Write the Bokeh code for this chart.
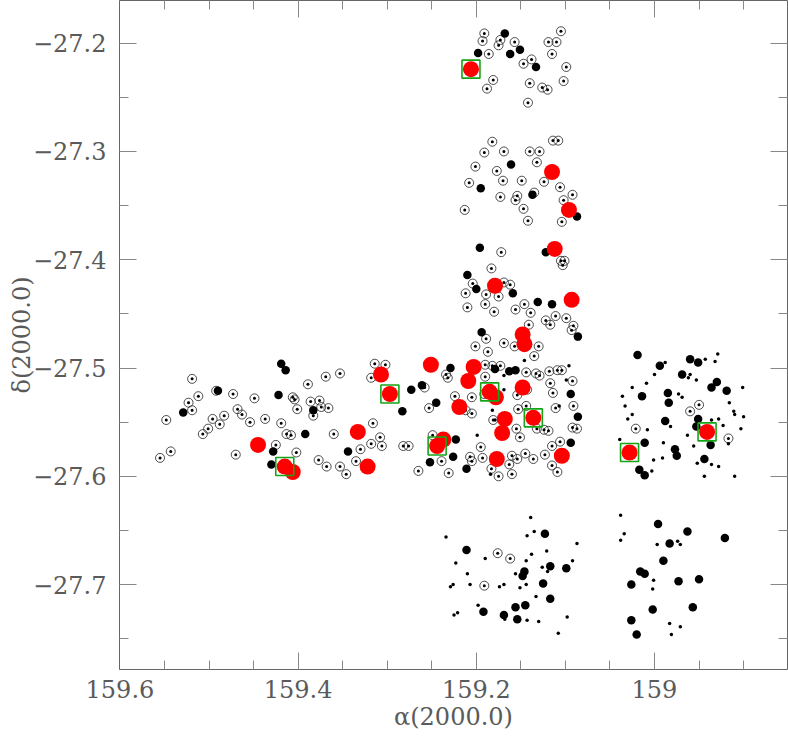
from bokeh.plotting import figure
from bokeh.models import Range1d, FixedTicker, LinearAxis, CustomJSTickFormatter
from bokeh.embed import file_html
from bokeh.resources import INLINE

# ---------------- data (RA, Dec in degrees, J2000) ----------------
ring_ra = [159.191, 159.193, 159.173, 159.175, 159.157, 159.186, 159.138, 159.147, 159.119, 159.110,
           159.105, 159.115, 159.099, 159.102, 159.181, 159.188, 159.140, 159.126, 159.120, 159.142,
           159.182, 159.191, 159.169, 159.140, 159.129, 159.114, 159.108, 159.132, 159.201, 159.177,
           159.208, 159.170, 159.149, 159.124, 159.106, 159.135, 159.154, 159.156, 159.173, 159.092,
           159.102, 159.213, 159.147, 159.142, 159.104,
           159.172, 159.105, 159.101, 159.103, 159.183, 159.204, 159.169, 159.162, 159.212, 159.189,
           159.175, 159.210, 159.190, 159.180, 159.146, 159.156, 159.139, 159.141, 159.122, 159.111,
           159.099, 159.117, 159.091, 159.093, 159.189, 159.201, 159.169, 159.157, 159.130,
           159.187, 159.135, 159.190, 159.182, 159.173, 159.144, 159.133, 159.118, 159.109, 159.104,
           159.234, 159.232, 159.190, 159.129, 159.092, 159.258, 159.224, 159.205, 159.191, 159.154,
           159.143, 159.117, 159.114, 159.253, 159.212, 159.205, 159.153, 159.144, 159.111, 159.091,
           159.181, 159.155, 159.151, 159.132, 159.124, 159.119, 159.092, 159.087, 159.249, 159.282,
           159.276, 159.195, 159.106, 159.115, 159.239, 159.207, 159.205, 159.193, 159.160, 159.154,
           159.145, 159.136, 159.123, 159.115, 159.109, 159.163, 159.183, 159.175, 159.160, 159.265,
           159.231,
           159.519, 159.492, 159.473, 159.449, 159.512, 159.523, 159.519, 159.548, 159.369, 159.353,
           159.389, 159.406, 159.404, 159.401, 159.386, 159.376, 159.374, 159.366, 159.383, 159.468,
           159.463, 159.483, 159.496, 159.488, 159.501, 159.507, 159.454, 159.437, 159.419, 159.413,
           159.408, 159.360, 159.316, 159.308, 159.306, 159.318, 159.330, 159.318, 159.314, 159.302,
           159.425, 159.402, 159.470, 159.543, 159.555, 159.377, 159.368, 159.353, 159.346, 159.335,
           158.960, 158.950, 159.021, 158.917,
           159.176, 159.162, 159.191]
ring_dec = [-27.191, -27.198, -27.197, -27.202, -27.199, -27.210, -27.215, -27.219, -27.199, -27.199,
            -27.189, -27.210, -27.222, -27.235, -27.234, -27.242, -27.237, -27.241, -27.243, -27.255,
            -27.291, -27.301, -27.300, -27.300, -27.300, -27.290, -27.290, -27.310, -27.314, -27.318,
            -27.329, -27.327, -27.327, -27.328, -27.333, -27.338, -27.341, -27.345, -27.342, -27.340,
            -27.345, -27.354, -27.353, -27.364, -27.365,
            -27.393, -27.401, -27.401, -27.405, -27.408, -27.422, -27.421, -27.423, -27.431, -27.432,
            -27.434, -27.444, -27.441, -27.448, -27.441, -27.446, -27.449, -27.460, -27.456, -27.452,
            -27.454, -27.460, -27.461, -27.465, -27.473, -27.480, -27.477, -27.480, -27.480,
            -27.485, -27.489, -27.497, -27.498, -27.498, -27.504, -27.505, -27.503, -27.502, -27.502,
            -27.506, -27.509, -27.508, -27.507, -27.512, -27.518, -27.526, -27.527, -27.524, -27.525,
            -27.520, -27.514, -27.523, -27.537, -27.539, -27.542, -27.538, -27.535, -27.537, -27.535,
            -27.548, -27.556, -27.564, -27.556, -27.557, -27.558, -27.555, -27.556, -27.562, -27.572,
            -27.572, -27.573, -27.568, -27.572, -27.586, -27.582, -27.586, -27.583, -27.581, -27.584,
            -27.579, -27.584, -27.580, -27.590, -27.596, -27.589, -27.593, -27.600, -27.598, -27.595,
            -27.597,
            -27.510, -27.521, -27.524, -27.528, -27.526, -27.532, -27.539, -27.548, -27.508, -27.505,
            -27.515, -27.527, -27.529, -27.538, -27.531, -27.530, -27.536, -27.537, -27.544, -27.538,
            -27.543, -27.544, -27.547, -27.552, -27.556, -27.561, -27.550, -27.547, -27.551, -27.561,
            -27.562, -27.561, -27.551, -27.564, -27.572, -27.570, -27.575, -27.509, -27.496, -27.497,
            -27.571, -27.578, -27.580, -27.577, -27.583, -27.585, -27.591, -27.591, -27.598, -27.586,
            -27.540, -27.534, -27.556, -27.565,
            -27.671, -27.676, -27.701]

big_ra = [159.168, 159.198, 159.162, 159.151, 159.133,
          159.161, 159.195, 159.137, 159.087,
          159.196, 159.122, 159.210, 159.200, 159.159, 159.131, 159.115, 159.086, 159.194,
          159.229, 159.179, 159.163, 159.156, 159.261, 159.273, 159.094, 159.245, 159.086, 159.283,
          159.223, 159.094, 159.226, 159.252, 159.211,
          159.490, 159.529, 159.419, 159.414, 159.422, 159.383, 159.392, 159.428, 159.344, 159.430,
          159.019, 158.994, 158.960, 158.951, 158.969, 158.930, 158.936, 158.919, 158.985, 159.014,
          158.984, 158.988, 158.951, 158.953, 158.937, 159.011, 158.977, 158.975, 158.944, 159.017,
          159.011,
          159.123, 159.211, 159.117, 159.099, 159.146, 159.148, 159.125, 159.117, 159.145, 159.156,
          159.192, 159.169, 159.154,
          158.996, 158.963, 158.921, 158.983, 158.990, 159.016, 159.011, 159.026, 158.973, 158.950,
          159.002, 158.957, 159.026, 159.020]
big_dec = [-27.191, -27.209, -27.210, -27.206, -27.222,
           -27.312, -27.334, -27.340, -27.360,
           -27.389, -27.393, -27.414, -27.427, -27.431, -27.439, -27.441, -27.471, -27.467,
           -27.500, -27.501, -27.503, -27.502, -27.516, -27.520, -27.524, -27.532, -27.545, -27.540,
           -27.566, -27.569, -27.582, -27.587, -27.593,
           -27.521, -27.541, -27.496, -27.502, -27.525, -27.539, -27.561, -27.577, -27.577, -27.589,
           -27.488, -27.498, -27.492, -27.495, -27.506, -27.513, -27.518, -27.521, -27.523, -27.526,
           -27.532, -27.549, -27.547, -27.554, -27.571, -27.569, -27.575, -27.581, -27.584, -27.594,
           -27.599,
           -27.653, -27.668, -27.683, -27.685, -27.688, -27.692, -27.699, -27.713, -27.719, -27.721,
           -27.725, -27.728, -27.732,
           -27.644, -27.651, -27.657, -27.662, -27.678, -27.688, -27.690, -27.700, -27.697, -27.695,
           -27.723, -27.721, -27.733, -27.746]

dot_ra = [159.169, 159.099, 159.182, 159.199, 159.184, 159.146, 159.169, 159.179, 159.096, 159.107,
          158.988, 158.943, 158.929, 158.932, 158.962, 158.960, 158.953, 159.000, 159.009, 159.025,
          159.036, 159.033, 159.025, 159.030, 159.039, 158.973, 158.969, 158.901, 158.916, 158.911,
          158.910, 158.900, 158.903, 158.917, 158.923, 158.928, 158.936, 158.963, 158.982, 158.990,
          158.991, 159.001, 159.003, 158.952, 158.936, 158.928, 158.944, 158.910, 158.956, 159.008,
          159.139, 159.234, 159.143, 159.135, 159.087, 159.190, 159.223, 159.144, 159.138, 159.121,
          159.092, 159.126, 159.120, 159.156, 159.210, 159.226, 159.229, 159.207, 159.174, 159.169,
          159.151, 159.144, 159.133, 159.198, 159.225, 159.221, 159.168, 159.143, 159.130, 159.098,
          159.108,
          159.038, 159.034, 159.038, 158.997, 158.974, 158.971, 159.001, 159.002, 158.983, 158.971,
          158.981]
dot_dec = [-27.507, -27.511, -27.539, -27.562, -27.598, -27.493, -27.520, -27.548, -27.498, -27.535,
           -27.495, -27.492, -27.487, -27.494, -27.509, -27.506, -27.511, -27.506, -27.514, -27.518,
           -27.526, -27.535, -27.543, -27.547, -27.566, -27.524, -27.527, -27.518, -27.532, -27.540,
           -27.543, -27.545, -27.556, -27.570, -27.553, -27.547, -27.548, -27.562, -27.554, -27.569,
           -27.583, -27.585, -27.595, -27.588, -27.589, -27.591, -27.600, -27.600, -27.572, -27.557,
           -27.638, -27.656, -27.655, -27.651, -27.662, -27.676, -27.680, -27.678, -27.672, -27.669,
           -27.678, -27.684, -27.688, -27.690, -27.690, -27.700, -27.702, -27.700, -27.702, -27.700,
           -27.703, -27.700, -27.711, -27.719, -27.728, -27.726, -27.732, -27.733, -27.734, -27.730,
           -27.745,
           -27.636, -27.653, -27.659, -27.663, -27.660, -27.663, -27.696, -27.704, -27.736, -27.739,
           -27.746]

red_ra = [159.206,
          159.115, 159.096, 159.112, 159.179, 159.093, 159.148, 159.146,
          159.251, 159.203, 159.209, 159.185, 159.178, 159.148, 159.219, 159.136, 159.168, 159.171,
          159.237, 159.244, 159.177, 159.104,
          159.333, 159.307, 159.297, 159.445, 159.415, 159.406, 159.322,
          158.941, 159.028]
red_dec = [-27.224,
           -27.319, -27.354, -27.390, -27.424, -27.437, -27.469, -27.478,
           -27.497, -27.499, -27.512, -27.522, -27.527, -27.518, -27.536, -27.546, -27.547, -27.560,
           -27.566, -27.572, -27.584, -27.581,
           -27.559, -27.506, -27.524, -27.571, -27.591, -27.596, -27.591,
           -27.559, -27.578]

box_ra = [159.206, 159.297, 159.185, 159.136, 159.244, 159.415, 158.941, 159.028]
box_dec = [-27.224, -27.524, -27.522, -27.546, -27.572, -27.591, -27.559, -27.578]

x_major = [159.6, 159.4, 159.2, 159.0]
x_minor = [159.55, 159.5, 159.45, 159.35, 159.3, 159.25, 159.15, 159.1, 159.05, 158.95, 158.9]
y_major = [-27.2, -27.3, -27.4, -27.5, -27.6, -27.7]
y_minor = [-27.25, -27.35, -27.45, -27.55, -27.65, -27.75]

# ---------------- figure ----------------
FONT = "DejaVu Serif"
TXT = "#5a5a5a"

p = figure(frame_width=668, frame_height=669, output_backend="svg", toolbar_location=None,
           x_range=Range1d(159.6005, 158.8507), y_range=Range1d(-27.7784, -27.1606),
           min_border_left=119, min_border_right=1, min_border_top=0, min_border_bottom=70,
           x_axis_location=None, y_axis_location=None)
p.grid.visible = False
p.outline_line_color = None
p.background_fill_color = "white"
p.border_fill_color = "white"

xfmt = CustomJSTickFormatter(code="return Number(tick.toFixed(2)).toString();")
yfmt = CustomJSTickFormatter(code="return '\u2212' + Math.abs(tick).toFixed(1);")
nofmt = CustomJSTickFormatter(code="return '';")


def style(ax, show_labels):
    ax.axis_line_color = "#666666"
    ax.axis_line_width = 1
    ax.major_tick_line_color = "#888888"
    ax.minor_tick_line_color = "#888888"
    ax.major_tick_in = 17
    ax.major_tick_out = 0
    ax.minor_tick_in = 9
    ax.minor_tick_out = 0
    if show_labels:
        ax.major_label_text_font = FONT
        ax.major_label_text_font_size = "24px"
        ax.major_label_text_color = TXT
        ax.axis_label_text_font = FONT
        ax.axis_label_text_font_size = "24px"
        ax.axis_label_text_font_style = "normal"
        ax.axis_label_text_color = TXT
    else:
        ax.major_label_standoff = 0


xt = FixedTicker(ticks=x_major, minor_ticks=x_minor)
yt = FixedTicker(ticks=y_major, minor_ticks=y_minor)

xb = LinearAxis(ticker=xt, formatter=xfmt, axis_label="\u03b1(2000.0)")
style(xb, True)
xb.major_label_standoff = 10
xb.axis_label_standoff = 2
p.add_layout(xb, "below")

yl = LinearAxis(ticker=yt, formatter=yfmt, axis_label="\u03b4(2000.0)")
style(yl, True)
yl.major_label_standoff = 13
yl.axis_label_standoff = -6
p.add_layout(yl, "left")

xa = LinearAxis(ticker=xt, formatter=nofmt)
style(xa, False)
p.add_layout(xa, "above")

yr = LinearAxis(ticker=yt, formatter=nofmt)
style(yr, False)
p.add_layout(yr, "right")

# ---------------- markers ----------------
p.scatter(ring_ra, ring_dec, marker="circle", size=9, fill_color=None,
          line_color="#222222", line_width=0.8)
p.scatter(ring_ra, ring_dec, marker="circle", size=3, fill_color="black", line_color=None)
p.scatter(dot_ra, dot_dec, marker="circle", size=3.5, fill_color="black", line_color=None)
p.scatter(big_ra, big_dec, marker="circle", size=8.5, fill_color="black", line_color=None)
p.scatter(red_ra, red_dec, marker="circle", size=16, fill_color="#ff0000", line_color=None)
p.scatter(box_ra, box_dec, marker="square", size=18, fill_color=None,
          line_color="#16a516", line_width=1.6)

open("out.html", "w").write(file_html(p, INLINE))
